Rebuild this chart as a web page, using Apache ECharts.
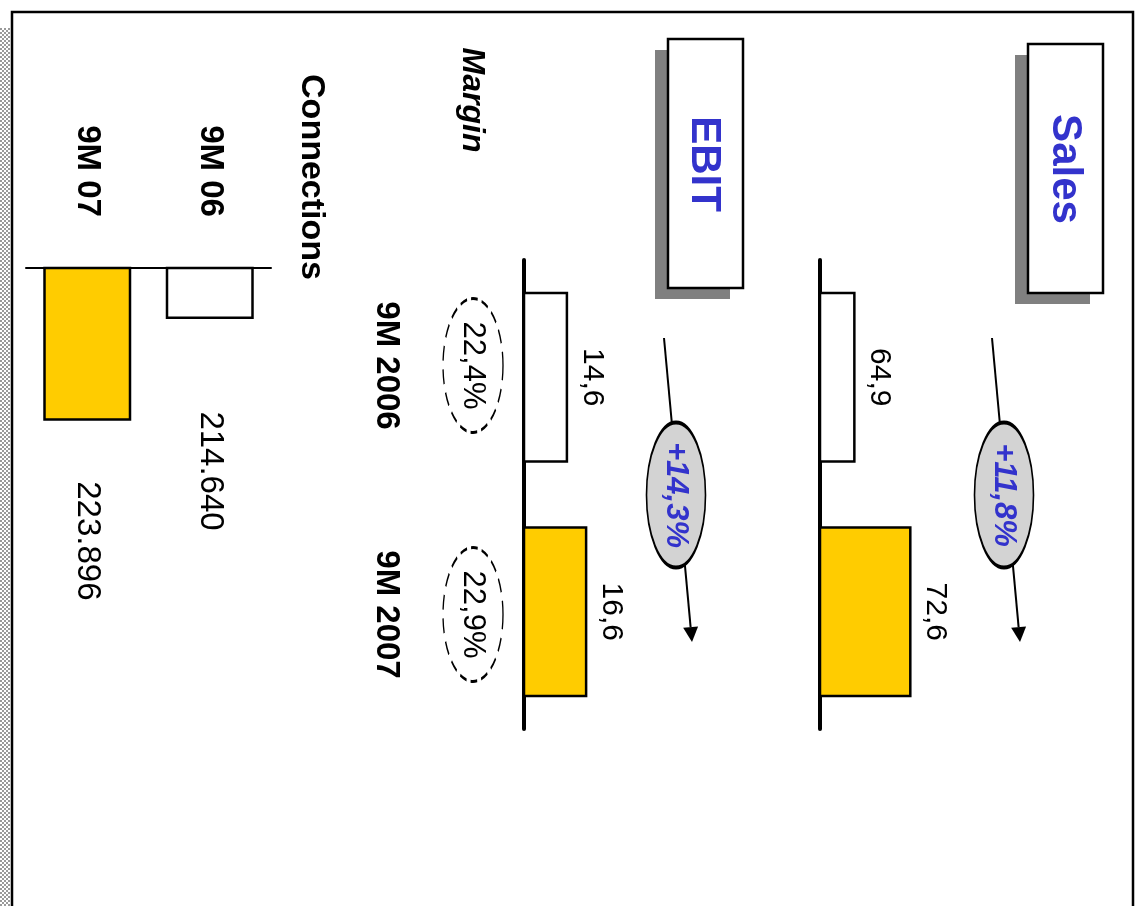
<!DOCTYPE html>
<html>
<head>
<meta charset="utf-8">
<script src="https://cdn.jsdelivr.net/npm/echarts@6/dist/echarts.min.js"></script>
<style>
  html, body { margin: 0; padding: 0; background: #fff; }
  #main { width: 1139px; height: 906px; }
</style>
</head>
<body>
<div id="main"></div>
<script>
// data
var years = ['9M 2006', '9M 2007'];
var sales = [64.9, 72.6];
var ebit = [14.6, 16.6];
var margin = [22.4, 22.9];
var growthCats = ['EBIT', 'Sales'];
var growth = [14.3, 11.8];
var connCats = ['9M 06', '9M 07'];
var connections = [214640, 223896];

var FONT = 'Arial, "Liberation Sans", sans-serif';
var YELLOW = '#ffcc00';
var BLUE = '#3333cc';
var barColors = ['#ffffff', YELLOW];

function comma(v) { return v.toFixed(1).replace('.', ','); }
function thousands(v) { return String(v).replace(/\B(?=(\d{3})+(?!\d))/g, '.'); }

// checker strip on the left edge
var pat = document.createElement('canvas');
pat.width = 4; pat.height = 4;
var pctx = pat.getContext('2d');
pctx.fillStyle = '#ffffff'; pctx.fillRect(0, 0, 4, 4);
pctx.fillStyle = '#9a9a9a'; pctx.fillRect(0, 0, 2, 2); pctx.fillRect(2, 2, 2, 2);

function arrow(x1, y1, x2, y2) {
    var dx = x2 - x1, dy = y2 - y1, len = Math.sqrt(dx * dx + dy * dy);
    var ux = dx / len, uy = dy / len, hl = 15, hw = 7.5;
    var bx = x2 - ux * hl, by = y2 - uy * hl;
    return [
        { type: 'line', shape: { x1: x1, y1: y1, x2: bx, y2: by }, style: { stroke: '#000', lineWidth: 2 } },
        { type: 'polygon', shape: { points: [[x2, y2], [bx + uy * hw, by - ux * hw], [bx - uy * hw, by + ux * hw]] }, style: { fill: '#000' } }
    ];
}

function titleBox(x, y, w, h, text, cx, cy) {
    return [
        { type: 'rect', shape: { x: x - 13, y: y + 11, width: w, height: h }, style: { fill: '#808080' } },
        { type: 'rect', shape: { x: x, y: y, width: w, height: h }, style: { fill: '#fff', stroke: '#000', lineWidth: 2.5 } },
        { type: 'text', x: cx, y: cy, rotation: -Math.PI / 2, style: { text: text, fill: BLUE, font: 'bold 42px ' + FONT, align: 'center', verticalAlign: 'middle' } }
    ];
}

function rotText(text, cx, cy, font) {
    return { type: 'text', x: cx, y: cy, rotation: -Math.PI / 2, style: { text: text, fill: '#000', font: font, align: 'center', verticalAlign: 'middle' } };
}

var graphics = [
    { type: 'rect', shape: { x: 0, y: 28, width: 10, height: 900 }, style: { fill: { image: pat, repeat: 'repeat' } } },
    { type: 'rect', shape: { x: 12, y: 12, width: 1121, height: 1000 }, style: { fill: 'none', stroke: '#000', lineWidth: 2.5 } },
    rotText('Connections', 311, 177, 'bold 34px ' + FONT),
    rotText('Margin', 472, 100, 'italic bold 32px ' + FONT)
].concat(titleBox(1028, 44, 75, 249, 'Sales', 1065, 169))
 .concat(titleBox(668, 39, 75, 249, 'EBIT', 704, 164))
 .concat(arrow(992, 338, 1020, 642))
 .concat(arrow(664, 338, 692, 642));

function hBarSeries(vals, idx) {
    return {
        type: 'bar', xAxisIndex: idx, yAxisIndex: idx, barWidth: 171,
        data: vals.map(function (v, i) {
            return { value: v, itemStyle: { color: barColors[i] } };
        }),
        itemStyle: { borderColor: '#000', borderWidth: 2.5 },
        label: {
            show: true, position: 'right', distance: 24, rotate: -90,
            align: 'center', verticalAlign: 'middle',
            fontFamily: FONT, fontSize: 30, color: '#000',
            formatter: function (p) { return comma(p.value); }
        }
    };
}

var catAxisBase = {
    type: 'category', inverse: true, axisTick: { show: false }, axisLabel: { show: false },
    axisLine: { show: true, onZero: false, lineStyle: { color: '#000', width: 4, cap: 'round' } }
};

var chart = echarts.init(document.getElementById('main'));
chart.setOption({
    animation: false,
    backgroundColor: '#fff',
    graphic: graphics,
    grid: [
        { left: 820, top: 260, width: 109, height: 469 },   // sales
        { left: 524, top: 260, width: 96, height: 469 },    // ebit
        { left: 26, top: 268, width: 245, height: 165 },    // connections
        { left: 443, top: 241, width: 60, height: 498 },    // margin
        { left: 676, top: 260, width: 328, height: 470 }    // growth
    ],
    xAxis: [
        { gridIndex: 0, type: 'value', min: 60, max: 75, show: false },
        { gridIndex: 1, type: 'value', min: 10, max: 20, show: false },
        {
            gridIndex: 2, type: 'category', data: connCats, inverse: true, position: 'top',
            axisTick: { show: false },
            axisLine: { lineStyle: { color: '#000', width: 2 } },
            axisLabel: {
                rotate: 90, margin: 97, align: 'center', verticalAlign: 'middle',
                fontFamily: FONT, fontWeight: 'bold', fontSize: 33, color: '#000'
            }
        },
        { gridIndex: 3, type: 'category', data: ['Margin'], show: false },
        { gridIndex: 4, type: 'category', data: growthCats, boundaryGap: false, show: false }
    ],
    yAxis: [
        Object.assign({ gridIndex: 0, data: years }, catAxisBase),
        Object.assign({ gridIndex: 1, data: years }, catAxisBase),
        { gridIndex: 2, type: 'value', inverse: true, min: 210000, max: 225000, show: false },
        {
            gridIndex: 3, type: 'category', data: years, inverse: true,
            axisLine: { show: false }, axisTick: { show: false },
            axisLabel: {
                rotate: -90, margin: 57, align: 'center', verticalAlign: 'middle',
                fontFamily: FONT, fontWeight: 'bold', fontSize: 33, color: '#000'
            }
        },
        { gridIndex: 4, type: 'category', data: ['g'], show: false }
    ],
    series: [
        hBarSeries(sales, 0),
        hBarSeries(ebit, 1),
        {
            type: 'bar', xAxisIndex: 2, yAxisIndex: 2, barWidth: 88,
            data: connections.map(function (v, i) {
                return { value: v, itemStyle: { color: barColors[i] }, label: { distance: i === 0 ? 152 : 120 } };
            }),
            itemStyle: { borderColor: '#000', borderWidth: 2.5 },
            label: {
                show: true, position: 'bottom', rotate: -90,
                align: 'center', verticalAlign: 'middle',
                fontFamily: FONT, fontSize: 33, color: '#000',
                formatter: function (p) { return thousands(p.value); }
            }
        },
        {
            type: 'scatter', xAxisIndex: 3, yAxisIndex: 3, symbol: 'circle', symbolSize: [60, 134],
            data: margin.map(function (v, i) { return [0, i, v]; }),
            encode: { x: 0, y: 1 },
            itemStyle: { color: 'rgba(255,255,255,0)', borderColor: '#000', borderWidth: 2, borderType: [10, 6], opacity: 1 },
            label: {
                show: true, position: 'inside', rotate: -90,
                fontFamily: FONT, fontSize: 31, color: '#000',
                formatter: function (p) { return comma(p.value[2]) + '%'; }
            }
        },
        {
            type: 'scatter', xAxisIndex: 4, yAxisIndex: 4, symbol: 'circle', symbolSize: [59, 145],
            data: growth.map(function (v, i) { return [i, 0, v]; }),
            encode: { x: 0, y: 1 },
            itemStyle: { color: '#d3d3d3', borderColor: '#000', borderWidth: 2.5, opacity: 1 },
            label: {
                show: true, position: 'inside', rotate: -90,
                fontFamily: FONT, fontSize: 31, fontWeight: 'bold', fontStyle: 'italic', color: BLUE,
                formatter: function (p) { return '+' + comma(p.value[2]) + '%'; }
            }
        }
    ]
});
</script>
</body>
</html>
